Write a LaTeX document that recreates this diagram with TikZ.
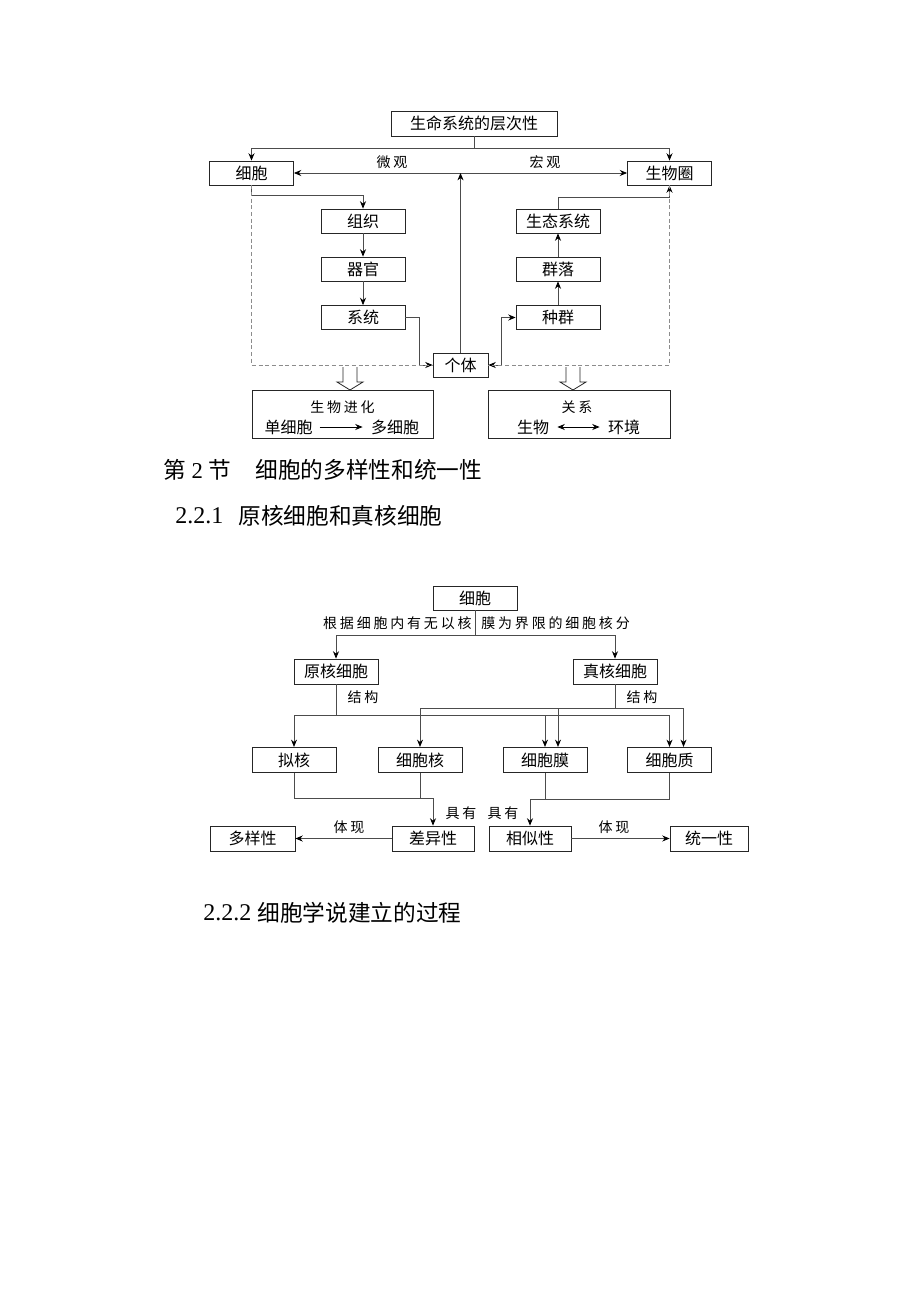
\documentclass[tikz,border=0pt]{standalone}
\usepackage{fontspec}
\setmainfont{Liberation Serif}
\newfontfamily\cjk{Noto Sans CJK SC}
\newfontfamily\kai[LetterSpace=20]{Noto Sans CJK SC}
\usetikzlibrary{arrows.meta,positioning,calc}

\begin{document}
\begin{tikzpicture}[x=0.75pt,y=-0.75pt,>={Stealth[length=5.5pt,width=4.5pt,color=black]},
	draw=black!70,line width=0.6pt,
	box/.style={draw=black!85,minimum width=63pt,minimum height=18pt,inner sep=0pt,font=\cjk\fontsize{12}{14}\selectfont},
	lbl/.style={inner sep=0pt,font=\kai\fontsize{10.5}{12}\selectfont},
	txt/.style={inner sep=0pt,font=\cjk\fontsize{12}{14}\selectfont},
	head/.style={inner sep=0pt,anchor=west}]
	\useasboundingbox (0,0) rectangle (920,1302);
	% levels of life
	\node (top) at (474,123.5)[box,minimum width=124.5pt,minimum height=18.75pt] {生命系统的层次性};
	\node (xb) at (251.5,173)[box] {细胞};
	\node (swq) at (669.5,173)[box] {生物圈};
	\node (zz) at (363,221)[box] {组织};
	\node (qg) at (363,269)[box] {器官};
	\node (xt) at (363,317.5)[box] {系统};
	\node (stxt) at (558,221)[box] {生态系统};
	\node (ql) at (558,269)[box] {群落};
	\node (zq) at (558,317.5)[box] {种群};
	\node (gt) at (460.5,365)[box,minimum width=41.25pt] {个体};
	\node (jh) at (342.5,414)[box,minimum width=135.75pt,minimum height=36pt] {};
	\node (gx) at (579,414)[box,minimum width=136.5pt,minimum height=36pt] {};
	\node (wg) at (392,162)[lbl] {微观};
	\node (hg) at (545,162)[lbl] {宏观};
	\node (swjh) at (342.5,407)[lbl] {生物进化};
	\node (dxb) at (288.5,427)[txt] {单细胞};
	\node (dxb2) at (395,427)[txt] {多细胞};
	\node (gx1) at (577,407)[lbl] {关系};
	\node (sw) at (533,427)[txt] {生物};
	\node (hj) at (624,427)[txt] {环境};
	\draw [->](top.south) -- (top.south |- 0,148) -| (xb.north);
	\draw [->](top.south |- 0,148) -| (swq.north);
	\draw [<->](xb.east) -- (swq.west);
	\draw [->](gt.north) -- (gt.north |- xb.east);
	\draw [->](xb.south) -- (xb.south |- 0,195) -| (zz.north);
	\draw [->](zz) -- (qg);
	\draw [->](qg) -- (xt);
	\draw [->](xt.east) -- ++(14,0) |- (gt.west);
	\draw [<->](zq.west) -- ++(-14,0) |- (gt.east);
	\draw [->](zq) -- (ql);
	\draw [->](ql) -- (stxt);
	\draw [->](stxt.north) -- (stxt.north |- 0,197) -| (swq.south);
	\draw [draw=black!45,dash pattern=on 3pt off 2pt](xb.south) |- (gt.west);
	\draw [draw=black!45,dash pattern=on 3pt off 2pt](swq.south) |- (gt.east);
	\draw [->,draw=black,shorten <=5pt,shorten >=6pt](dxb) -- (dxb2);
	\draw [<->,draw=black,shorten <=6pt,shorten >=6pt](sw) -- (hj);
	\draw [draw=black!85,fill=white](343,367) -- (343,382) -- (337,382) -- (350,390) -- (363,382) -- (357,382) -- (357,367);
	\draw [draw=black!85,fill=white](566,367) -- (566,382) -- (560,382) -- (573,390) -- (586,382) -- (580,382) -- (580,367);
	% headings
	\node (h1a) at (163,470)[head,font=\fontsize{17}{20}\selectfont] {{\cjk 第} 2 {\cjk 节}};
	\node (h1b) at (255,470)[head,font=\cjk\fontsize{17}{20}\selectfont] {细胞的多样性和统一性};
	\node (h2a) at (175,516)[head,font=\fontsize{18}{20}\selectfont] {2.2.1};
	\node (h2b) at (238,516)[head,font=\cjk\fontsize{17}{20}\selectfont] {原核细胞和真核细胞};
	\node (h3a) at (203,913)[head,font=\fontsize{18}{20}\selectfont] {2.2.2};
	\node (h3b) at (257,913)[head,font=\cjk\fontsize{17}{20}\selectfont] {细胞学说建立的过程};
	% prokaryote / eukaryote
	\node (cb) at (475,598)[box] {细胞};
	\node (gj1) at (472,623)[lbl,anchor=east] {根据细胞内有无以核};
	\node (gj2) at (481,623)[lbl,anchor=west] {膜为界限的细胞核分};
	\node (yh) at (336,671.5)[box,minimum height=18.75pt] {原核细胞};
	\node (zh) at (615,671.5)[box,minimum height=18.75pt] {真核细胞};
	\node (jg1) at (363,697)[lbl] {结构};
	\node (jg2) at (642,697)[lbl] {结构};
	\node (nh) at (294,760)[box,minimum height=19pt] {拟核};
	\node (hx) at (420,760)[box,minimum height=19pt] {细胞核};
	\node (mo) at (545,760)[box,minimum height=19pt] {细胞膜};
	\node (zhi) at (669.5,760)[box,minimum height=19pt] {细胞质};
	\node (dy) at (252.5,838.5)[box,minimum width=63.75pt,minimum height=18.75pt] {多样性};
	\node (cy) at (433,838.5)[box,minimum width=61.5pt,minimum height=18.75pt] {差异性};
	\node (xs) at (530,838.5)[box,minimum width=61.5pt,minimum height=18.75pt] {相似性};
	\node (ty) at (709,838.5)[box,minimum width=58.5pt,minimum height=18.75pt] {统一性};
	\node (jy1) at (461,813)[lbl] {具有};
	\node (jy2) at (503,813)[lbl] {具有};
	\node (tx1) at (349,827)[lbl] {体现};
	\node (tx2) at (614,827)[lbl] {体现};
	\coordinate (fen) at (cb.south |- 0,635);
	\draw (cb.south) -- (fen);
	\draw [->](fen) -| (yh.north);
	\draw [->](fen) -| (zh.north);
	\coordinate (ya) at (yh.south |- 0,715);
	\draw (yh.south) -- (ya);
	\draw [->](ya) -| (nh.north);
	\draw [->](ya) -| (mo.north);
	\draw [->](ya) -| (zhi.north);
	\coordinate (za) at (zh.south |- 0,708);
	\draw (zh.south) -- (za);
	\draw [->](za) -| (hx.north);
	\draw [->](za) -| ([xshift=9.75pt]mo.north);
	\draw [->](za) -| ([xshift=10.5pt]zhi.north);
	\draw (nh.south) |- (cy.north |- 0,798);
	\draw (hx.south) -- (hx.south |- 0,798);
	\draw [->](cy.north |- 0,798) -- (cy.north);
	\draw (zhi.south) |- (xs.north |- 0,799);
	\draw (mo.south) -- (mo.south |- 0,799);
	\draw [->](xs.north |- 0,799) -- (xs.north);
	\draw [->](cy.west) -- (dy.east);
	\draw [->](xs.east) -- (ty.west);
\end{tikzpicture}
\end{document}
